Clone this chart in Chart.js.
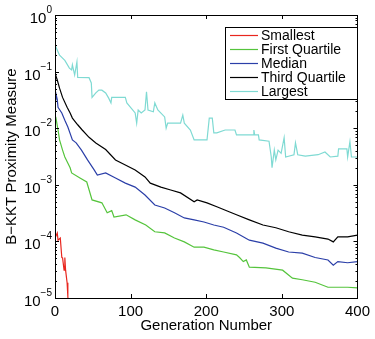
<!DOCTYPE html>
<html>
<head>
<meta charset="utf-8">
<script src="https://cdn.jsdelivr.net/npm/chart.js@4/dist/chart.umd.min.js"></script>
<style>
html,body{margin:0;padding:0;background:#fff;}
#wrap{width:375px;height:339px;}
</style>
</head>
<body>
<div id="wrap"><canvas id="c" width="375" height="339"></canvas></div>
<script>
// ---- data ----
const seriesNames = ["Smallest", "First Quartile", "Median", "Third Quartile", "Largest"];
const xTicks = [0, 100, 200, 300, 400];
const yTickExps = [0, -1, -2, -3, -4, -5];

const smallestGen = [0, 3, 4, 7, 9, 10, 12, 13, 14, 16, 17, 19];
const smallestVal = [1.15e-4, 1.41e-4, 1.05e-4, 1.15e-4, 5.2e-5, 5.1e-5, 3.1e-5, 5.2e-5, 3.1e-5, 1.86e-5, 1.05e-5, 5e-6];

const firstQGen = [0, 1, 4, 6, 10, 13, 20, 22, 33, 42, 49, 62, 69, 75, 78, 94, 106, 120, 132, 145, 158, 171, 184, 197, 210, 223, 240, 244, 249, 253, 257, 279, 301, 314, 327, 344, 361, 387, 400];
const firstQVal = [1.38e-2, 1.58e-2, 9.3e-3, 6.2e-3, 4.1e-3, 3.1e-3, 2.0e-3, 1.62e-3, 1.32e-3, 1.12e-3, 5.4e-4, 4.8e-4, 3.2e-4, 3.5e-4, 2.7e-4, 2.95e-4, 2.4e-4, 1.95e-4, 1.48e-4, 1.41e-4, 1.15e-4, 9.8e-5, 7.9e-5, 7.9e-5, 7.1e-5, 6.5e-5, 5.8e-5, 5.2e-5, 4.4e-5, 4.7e-5, 3.5e-5, 3.4e-5, 3.1e-5, 2.24e-5, 2.1e-5, 1.9e-5, 1.55e-5, 1.55e-5, 1.51e-5];

const medianGen = [0, 1, 3, 4, 9, 13, 17, 23, 28, 35, 43, 52, 56, 67, 80, 93, 106, 119, 132, 145, 158, 171, 184, 197, 210, 223, 240, 257, 275, 292, 309, 327, 344, 361, 368, 374, 387, 400];
const medianVal = [3.2e-2, 4.2e-2, 3.2e-2, 2.34e-2, 1.86e-2, 1.38e-2, 1.05e-2, 6.2e-3, 5.5e-3, 4.1e-3, 2.75e-3, 1.82e-3, 1.48e-3, 1.62e-3, 1.32e-3, 1.07e-3, 9.1e-4, 6.6e-4, 4.4e-4, 3.9e-4, 3.2e-4, 2.6e-4, 2.4e-4, 2.2e-4, 1.95e-4, 1.78e-4, 1.41e-4, 1.05e-4, 9.3e-5, 7.6e-5, 6.5e-5, 6.2e-5, 5.2e-5, 4.7e-5, 3.8e-5, 4.4e-5, 4.2e-5, 4.4e-5];

const thirdQGen = [0, 3, 6, 10, 16, 20, 23, 30, 36, 45, 54, 67, 80, 93, 106, 119, 126, 140, 153, 166, 184, 188, 201, 214, 231, 240, 257, 275, 292, 309, 327, 344, 361, 368, 374, 387, 400];
const thirdQVal = [9.5e-2, 7.1e-2, 5.1e-2, 3.5e-2, 2.34e-2, 1.86e-2, 1.51e-2, 1.15e-2, 9.3e-3, 6.9e-3, 5.5e-3, 4.2e-3, 2.75e-3, 2.24e-3, 1.82e-3, 1.38e-3, 1.07e-3, 9.1e-4, 8.1e-4, 7.2e-4, 5.0e-4, 5.4e-4, 4.8e-4, 4.1e-4, 3.3e-4, 2.95e-4, 2.4e-4, 1.95e-4, 1.74e-4, 1.48e-4, 1.29e-4, 1.2e-4, 1.1e-4, 9.8e-5, 1.2e-4, 1.2e-4, 1.29e-4];

const largestGen = [0, 6, 13, 19, 22, 23, 26, 29, 30, 45, 48, 49, 54, 58, 62, 67, 71, 74, 75, 93, 95, 106, 108, 110, 114, 119, 121, 123, 130, 132, 136, 145, 147, 149, 166, 169, 171, 179, 184, 201, 204, 208, 210, 214, 225, 238, 240, 262, 263, 264, 269, 270, 283, 286, 287, 290, 292, 295, 299, 303, 305, 316, 318, 321, 331, 348, 357, 364, 374, 375, 386, 387, 390, 392, 400];
const largestVal = [2.95e-1, 1.95e-1, 1.58e-1, 1.15e-1, 1.07e-1, 1.32e-1, 8.7e-2, 1.48e-1, 7.9e-2, 7.8e-2, 6.3e-2, 3.5e-2, 4.2e-2, 4.7e-2, 4.7e-2, 4.2e-2, 3.4e-2, 2.8e-2, 3.5e-2, 3.5e-2, 2.8e-2, 1.86e-2, 1.23e-2, 2.1e-2, 1.86e-2, 2.1e-2, 4.4e-2, 2.1e-2, 1.95e-2, 2.8e-2, 2.1e-2, 1.58e-2, 1.0e-2, 1.23e-2, 1.23e-2, 1.7e-2, 1.23e-2, 9.3e-3, 6.2e-3, 6.2e-3, 1.51e-2, 1.51e-2, 8.3e-3, 8.3e-3, 9.3e-3, 9.3e-3, 7.6e-3, 7.6e-3, 9.3e-3, 7.6e-3, 7.6e-3, 6.2e-3, 5.9e-3, 3.1e-3, 2.0e-3, 4.1e-3, 2.75e-3, 4.1e-3, 3.6e-3, 6.8e-3, 3.1e-3, 3.4e-3, 5.5e-3, 3.4e-3, 3.2e-3, 3.4e-3, 3.8e-3, 3.1e-3, 3.2e-3, 4.3e-3, 4.3e-3, 3.1e-3, 5.8e-3, 3.1e-3, 3.1e-3];

const seriesColors = ["#e8261e", "#55c43c", "#2b3fa8", "#000000", "#7fdad3"];

// ---- build datasets ----
function pts(g, v) { return g.map((x, i) => ({ x: x, y: v[i] })); }
const allSeries = [
  pts(smallestGen, smallestVal),
  pts(firstQGen, firstQVal),
  pts(medianGen, medianVal),
  pts(thirdQGen, thirdQVal),
  pts(largestGen, largestVal)
];
const datasets = allSeries.map((d, i) => ({
  label: seriesNames[i],
  data: d,
  borderColor: seriesColors[i],
  backgroundColor: seriesColors[i],
  borderWidth: 1.2,
  pointRadius: 0,
  tension: 0,
  fill: false
}));

const FONT = "'Liberation Sans', Arial, Helvetica, sans-serif";

const framePlugin = {
  id: 'frame',
  afterDraw(chart) {
    const ctx = chart.ctx;
    const a = chart.chartArea;
    const xs = chart.scales.x, ys = chart.scales.y;
    ctx.save();
    ctx.strokeStyle = '#000';
    ctx.lineWidth = 1;
    // ticks (inward)
    ctx.beginPath();
    xTicks.forEach(t => {
      const px = Math.round(xs.getPixelForValue(t)) + 0.5;
      ctx.moveTo(px, a.bottom); ctx.lineTo(px, a.bottom - 4);
      ctx.moveTo(px, a.top); ctx.lineTo(px, a.top + 4);
    });
    yTickExps.forEach(e => {
      for (let m = 1; m <= 9; m++) {
        const v = m * Math.pow(10, e);
        if (v > 1 || v < 1e-5) continue;
        const py = Math.round(ys.getPixelForValue(v)) + 0.5;
        const len = m === 1 ? 4 : 2;
        ctx.moveTo(a.left, py); ctx.lineTo(a.left + len, py);
        ctx.moveTo(a.right, py); ctx.lineTo(a.right - len, py);
      }
    });
    ctx.stroke();
    // frame
    ctx.strokeRect(Math.round(a.left) + 0.5, Math.round(a.top) + 0.5, Math.round(a.right - a.left), Math.round(a.bottom - a.top));
    // y tick labels with superscript exponents
    ctx.fillStyle = '#000';
    ctx.textBaseline = 'alphabetic';
    yTickExps.forEach(e => {
      const py = ys.getPixelForValue(Math.pow(10, e));
      const expTxt = e === 0 ? '0' : '\u2212' + Math.abs(e);
      ctx.font = '10px ' + FONT;
      const ew = ctx.measureText(expTxt).width;
      ctx.font = '15px ' + FONT;
      const bw = ctx.measureText('10').width;
      const right = a.left - 3;
      const baseY = py + 8;
      ctx.textAlign = 'left';
      ctx.fillText('10', right - ew - bw, baseY);
      ctx.font = '10px ' + FONT;
      ctx.fillText(expTxt, right - ew, baseY - 10);
    });
    // legend
    const lx = 225.5, ly = 27.5, lw = 132, lh = 72;
    ctx.fillStyle = '#fff';
    ctx.fillRect(lx, ly, lw, lh);
    ctx.strokeStyle = '#000';
    ctx.strokeRect(lx, ly, lw, lh);
    ctx.font = '14px ' + FONT;
    ctx.textAlign = 'left';
    ctx.textBaseline = 'middle';
    chart.data.datasets.forEach((ds, i) => {
      const y = 35 + i * 14;
      ctx.strokeStyle = ds.borderColor;
      ctx.lineWidth = 1.2;
      ctx.beginPath();
      ctx.moveTo(230, y + 0.5); ctx.lineTo(258, y + 0.5);
      ctx.stroke();
      ctx.fillStyle = '#000';
      ctx.fillText(ds.label, 261, y + 1);
    });
    ctx.restore();
  }
};

new Chart(document.getElementById('c'), {
  type: 'line',
  data: { datasets: datasets },
  options: {
    responsive: false,
    animation: false,
    devicePixelRatio: 1,
    layout: { padding: { top: 15, right: 12, left: 0, bottom: 0 } },
    plugins: { legend: { display: false }, tooltip: { enabled: false } },
    scales: {
      x: {
        type: 'linear', min: 0, max: 400,
        grid: { display: false, drawTicks: false },
        border: { display: false },
        afterBuildTicks: s => { s.ticks = xTicks.map(v => ({ value: v })); },
        ticks: { color: '#000', font: { size: 15, family: FONT }, padding: 5, maxRotation: 0 },
        title: { display: true, text: 'Generation Number', color: '#000', font: { size: 15, family: FONT }, padding: { top: 0, bottom: 4 } },
        afterFit: s => { s.height = 41; }
      },
      y: {
        type: 'logarithmic', min: 1e-5, max: 1,
        grid: { display: false, drawTicks: false },
        border: { display: false },
        ticks: { display: false },
        title: { display: true, text: 'B\u2212KKT Proximity Measure', color: '#000', font: { size: 15, family: FONT }, padding: { top: 3, bottom: 0 } },
        afterFit: s => { s.width = 55; }
      }
    }
  },
  plugins: [framePlugin]
});
</script>
</body>
</html>
